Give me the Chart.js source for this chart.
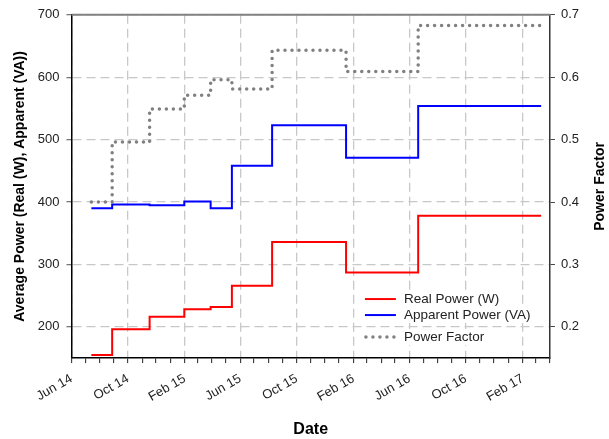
<!DOCTYPE html>
<html><head><meta charset="utf-8">
<script src="https://cdn.jsdelivr.net/npm/chart.js@4"></script>
<style>html,body{margin:0;padding:0;background:#fff}</style>
</head><body>
<canvas id="c" width="609" height="439"></canvas>
<script>
// ---- data ----
const stepDates = ['2014-07-14','2014-08-28','2014-11-17','2015-01-31','2015-03-29','2015-05-14','2015-08-09','2016-01-16','2016-06-20','2017-03-13'];
const realPower = [155, 196, 216, 228, 232, 266, 336, 287, 378, 378];
const apparentPower = [390, 396, 395, 401, 390, 458, 523, 471, 554, 554];
const powerFactor = [0.400, 0.496, 0.549, 0.571, 0.596, 0.581, 0.643, 0.609, 0.683, 0.683];
const xTickLabels = ['Jun 14','Oct 14','Feb 15','Jun 15','Oct 15','Feb 16','Jun 16','Oct 16','Feb 17'];
const leftTicks = [200, 300, 400, 500, 600, 700];
const rightTicks = [0.2, 0.3, 0.4, 0.5, 0.6, 0.7];
const xStart = '2014-06-01';
const xEnd = '2017-04-01';
const seriesLabels = ['Real Power (W)', 'Apparent Power (VA)', 'Power Factor'];

// ---- helpers ----
const DAY = 86400000;
const dayOf = s => (Date.parse(s) - Date.parse(xStart)) / DAY;
const monthTicks = [];
{
  let y = 2014, m = 5;
  while (true) {
    const v = (Date.UTC(y, m, 1) - Date.parse(xStart)) / DAY;
    if (v > dayOf(xEnd)) break;
    monthTicks.push(v);
    m++; if (m > 11) { m = 0; y++; }
  }
}
const pts = arr => stepDates.map((d, i) => ({x: dayOf(d), y: arr[i]}));

const FONT = "'Liberation Sans', Arial, sans-serif";
const GRID = '#c8c8c8';
const DASH = [9, 5];

const framePlugin = {
  id: 'frame',
  afterDraw(chart) {
    const {ctx, chartArea: a} = chart;
    ctx.save();
    ctx.strokeStyle = '#808080';
    ctx.lineWidth = 2;
    ctx.beginPath();
    ctx.moveTo(a.left, a.top);
    ctx.lineTo(a.right, a.top);
    ctx.stroke();
    // right axis title (reads bottom-to-top)
    ctx.fillStyle = '#000';
    ctx.font = 'bold 14px ' + FONT;
    ctx.textAlign = 'center';
    ctx.textBaseline = 'middle';
    ctx.translate(chart.width - 9, (a.top + a.bottom) / 2);
    ctx.rotate(-Math.PI / 2);
    ctx.fillText('Power Factor', 0, 0);
    ctx.restore();
  }
};

const legendPlugin = {
  id: 'innerLegend',
  afterDatasetsDraw(chart) {
    const {ctx, chartArea: a} = chart;
    const rowsY = [a.bottom - 59, a.bottom - 43, a.bottom - 21];
    const x0 = a.right - 185, x1 = a.right - 154, tx = a.right - 146;
    ctx.save();
    ctx.font = '13.5px ' + FONT;
    ctx.textBaseline = 'middle';
    chart.data.datasets.forEach((ds, i) => {
      const y = rowsY[i];
      const w = ctx.measureText(ds.label).width;
      ctx.fillStyle = '#fff';
      ctx.fillRect(x0 - 2, y - 8, tx - x0 + w + 4, 16);
      ctx.strokeStyle = ds.borderColor;
      ctx.lineWidth = ds.borderWidth;
      ctx.lineCap = ds.borderCapStyle || 'butt';
      ctx.setLineDash(ds.borderDash || []);
      ctx.beginPath();
      ctx.moveTo(x0 + (ds.borderDash ? 1 : 0), y);
      ctx.lineTo(x1, y);
      ctx.stroke();
      ctx.setLineDash([]);
      ctx.fillStyle = '#222';
      ctx.fillText(ds.label, tx, y);
    });
    ctx.restore();
  }
};

new Chart(document.getElementById('c'), {
  type: 'line',
  data: {
    datasets: [
      {label: seriesLabels[0], data: pts(realPower), yAxisID: 'y', borderColor: '#ff0000', borderWidth: 2, stepped: true, pointRadius: 0, fill: false},
      {label: seriesLabels[1], data: pts(apparentPower), yAxisID: 'y', borderColor: '#0000ff', borderWidth: 2, stepped: true, pointRadius: 0, fill: false},
      {label: seriesLabels[2], data: pts(powerFactor), yAxisID: 'y1', borderColor: '#808080', borderWidth: 3.5, borderDash: [0, 7], borderCapStyle: 'round', stepped: true, pointRadius: 0, fill: false}
    ]
  },
  options: {
    responsive: false,
    animation: false,
    layout: {padding: {left: 8, right: 24, top: 6, bottom: 0}},
    plugins: {legend: {display: false}, tooltip: {enabled: false}},
    scales: {
      x: {
        type: 'linear',
        min: 0,
        max: dayOf(xEnd),
        afterBuildTicks: s => { s.ticks = monthTicks.map(v => ({value: v})); },
        ticks: {
          autoSkip: false, minRotation: 30, maxRotation: 30, padding: 8,
          color: '#222', font: {family: FONT, size: 13},
          callback: (v, i) => (i % 4 === 0 ? xTickLabels[i / 4] : '')
        },
        grid: {
          color: c => (c.index % 4 === 0 ? GRID : 'rgba(0,0,0,0)'),
          lineWidth: 1.3, tickColor: '#222', tickLength: 5, tickWidth: 1
        },
        border: {color: '#000', width: 1.5, dash: DASH},
        title: {display: true, text: 'Date', color: '#000', font: {family: FONT, size: 16, weight: 'bold'}, padding: {top: 7, bottom: 0}}
      },
      y: {
        position: 'left',
        min: 150, max: 700,
        afterBuildTicks: s => { s.ticks = leftTicks.map(v => ({value: v})); },
        ticks: {padding: 7, color: '#222', font: {family: FONT, size: 13}},
        grid: {color: GRID, lineWidth: 1.3, tickColor: '#777', tickLength: 5},
        border: {color: '#000', width: 1.5, dash: DASH},
        title: {display: true, text: 'Average Power (Real (W), Apparent (VA))', color: '#000', font: {family: FONT, size: 14, weight: 'bold'}, padding: {top: 4, bottom: 2}}
      },
      y1: {
        position: 'right',
        min: 0.15, max: 0.7,
        afterBuildTicks: s => { s.ticks = rightTicks.map(v => ({value: v})); },
        ticks: {padding: 6, color: '#222', font: {family: FONT, size: 13}, callback: v => v.toFixed(1)},
        grid: {drawOnChartArea: false, tickColor: '#444', tickLength: 5},
        border: {color: '#333', width: 1.5}
      }
    }
  },
  plugins: [framePlugin, legendPlugin]
});
</script>
</body></html>
